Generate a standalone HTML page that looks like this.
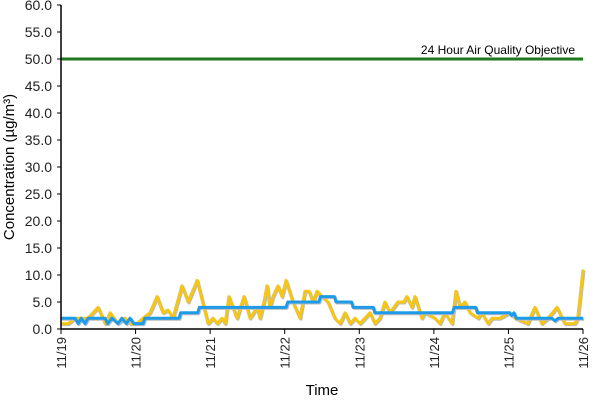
<!DOCTYPE html>
<html><head><meta charset="utf-8"><style>
body{margin:0;background:#fff;}
svg text{font-family:"Liberation Sans",Arial,sans-serif;}
</style></head><body>
<svg id="chart" width="600" height="400" xmlns="http://www.w3.org/2000/svg">
<g id="grid"></g>
<g id="series"></g>
<g id="axes"></g>
</svg>
<script>
const yTicks = [0,5,10,15,20,25,30,35,40,45,50,55,60];
const dayLabels = ["11/19","11/20","11/21","11/22","11/23","11/24","11/25","11/26"];
const objective = 50;
const objectiveLabel = "24 Hour Air Quality Objective";
const yellowHours = [0,2.3,4.5,6.1,8.7,11.9,14.2,15.8,18.3,20.6,22.2,24.4,26.4,28.6,30.9,32.8,34.4,36.0,38.9,40.9,43.8,47.3,48.9,50.2,51.8,52.8,54.0,56.6,58.9,60.8,63.1,64.0,65.3,66.3,67.2,68.2,69.8,71.1,72.4,74.6,76.9,78.5,79.8,81.1,82.4,84.0,85.9,88.1,89.8,91.4,93.0,94.6,96.2,97.8,99.4,101.0,102.6,104.2,105.8,108.4,110.3,111.3,112.9,113.9,116.1,117.1,120.3,121.9,123.5,125.8,127.1,128.4,130.0,131.6,134.2,135.4,137.4,138.7,141.2,144.4,146.1,150.2,152.5,154.7,156.7,159.6,162.1,165.4,166.3,168];
const yellowValues = [1,1,2,2,2,4,1,3,1,2,1,1,2,3,6,3,3.5,2,8,5,9,1,2,1,2,1,6,2,6,2,4,2,5,8,4,6,8,6,9,5,2,7,7,5,7,6,5,2,1,3,1,2,1,2,3,1,2,5,3,5,5,6,4,6,2,3,2,1,3,1,7,4,5,3,2,3,1,2,2,3,2,1,4,1,2,4,1,1,2,11];
const blueHours = [0,4.5,5.5,6.5,7.7,8.7,14.2,15,16.4,18.3,19.6,21,22.2,23.5,26.4,27,38,38.5,44,44.5,72.4,73,83,83.5,88,88.5,93.5,94,100.5,101,126,126.5,133.5,134,144.4,145,145.8,146.5,158,159,160,168];
const blueValues = [2,2,1,2,1,2,2,1,2,1,2,1,2,1,1,2,2,3,3,4,4,5,5,6,6,5,5,4,4,3,3,4,4,3,3,2.5,3,2,2,1.5,2,2];

const X0=61, X1=583, Y0=329, Y1=5, YMAX=60, HMAX=168;
const xs = h => X0 + (X1-X0)*h/HMAX;
const ys = v => Y0 - (Y0-Y1)*v/YMAX;
const NS="http://www.w3.org/2000/svg";
function mk(tag, attrs, parent){const e=document.createElementNS(NS,tag);for(const k in attrs)e.setAttribute(k,attrs[k]);parent.appendChild(e);return e;}
const axes=document.getElementById('axes'), series=document.getElementById('series');

// objective line
let ol=mk('line',{x1:X0,x2:X1,y1:ys(objective),y2:ys(objective),stroke:'#1f7a1f','stroke-width':3},series);


let olt=mk('text',{x:575,y:ys(objective)-5,'text-anchor':'end','font-size':12,fill:'#000'},series);
olt.textContent=objectiveLabel;



function line(hs,vs,color,name){
  const pts=hs.map((h,i)=>xs(h).toFixed(1)+','+ys(vs[i]).toFixed(1)).join(' ');
  mk('polyline',{points:pts,fill:'none',stroke:'#bbb','stroke-width':3,transform:'translate(1,1)','stroke-linejoin':'round'},series);
  const p=mk('polyline',{points:pts,fill:'none',stroke:color,'stroke-width':3,'stroke-linejoin':'round'},series);
  
  
}
line(yellowHours,yellowValues,'#f5c518','yellow-series-line');
line(blueHours,blueValues,'#1e9be8','blue-series-line');

// axes
let ya=mk('line',{x1:X0,x2:X0,y1:Y1,y2:Y0,stroke:'#000','stroke-width':1.5},axes);


let xa=mk('line',{x1:X0,x2:X1,y1:Y0,y2:Y0,stroke:'#000','stroke-width':1.5},axes);


yTicks.forEach(v=>{
  mk('line',{x1:X0-4,x2:X0,y1:ys(v),y2:ys(v),stroke:'#000'},axes);
  const t=mk('text',{x:X0-9,y:ys(v)+5,'text-anchor':'end','font-size':14,fill:'#222'},axes);
  t.textContent=v.toFixed(1);
  
  
});
dayLabels.forEach((d,i)=>{
  const x=xs(i*24);
  mk('line',{x1:x,x2:x,y1:Y0,y2:Y0+5,stroke:'#000'},axes);
  const t=mk('text',{x:0,y:0,'text-anchor':'end','font-size':13,fill:'#222',transform:`translate(${x+5},${Y0+8}) rotate(-90)`},axes);
  t.textContent=d;
  
  
});
let xt=mk('text',{x:322,y:395,'text-anchor':'middle','font-size':15,fill:'#000'},axes);
xt.textContent='Time';


let yt=mk('text',{x:0,y:0,'text-anchor':'middle','font-size':15,fill:'#000',transform:'translate(14,167) rotate(-90)'},axes);
yt.textContent='Concentration (µg/m³)';


</script>
</body></html>
